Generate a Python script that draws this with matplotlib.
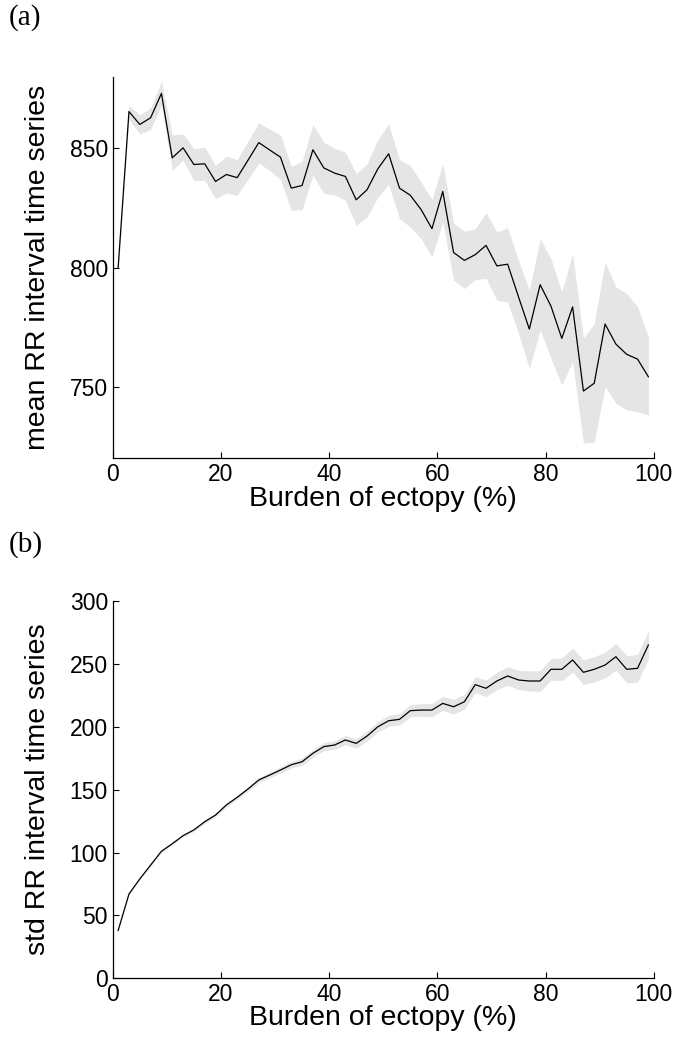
import numpy as np
import matplotlib
matplotlib.use("Agg")
import matplotlib.pyplot as plt

plt.rcParams['font.family'] = ['Liberation Sans', 'DejaVu Sans']

# Burden of ectopy (%) at bin centres
burden = [1, 3, 5, 7, 9, 11, 13, 15, 17, 19, 21, 23, 25, 27, 29, 31, 33, 35, 37, 39,
          41, 43, 45, 47, 49, 51, 53, 55, 57, 59, 61, 63, 65, 67, 69, 71, 73, 75, 77, 79,
          81, 83, 85, 87, 89, 91, 93, 95, 97, 99]

# (a) mean RR interval with confidence band
mean_rr = [800, 865.4, 860, 862.8, 873, 846, 850.2, 843.2, 843.5, 836.1,
           839, 837.7, 845, 852.4, 849.3, 846.3, 833.3, 834.4, 849.4, 841.8,
           839.6, 838.2, 828.4, 832.6, 841.4, 847.7, 833.3, 830.3, 824.3, 816.3,
           831.9, 806.3, 803, 805.4, 809.3, 800.7, 801.4, 787.7, 774.2, 792.8,
           783.8, 770.3, 783.5, 748.2, 751.5, 776.3, 767.9, 763.6, 761.6, 754.2]
mean_rr_upper = [802, 868, 864, 867, 878, 855.6, 856, 849.8, 850.5, 842.8,
                 846.7, 845.3, 853, 860.7, 858, 855.6, 842.4, 844.6, 860, 852.6,
                 850, 848.4, 839.3, 843.5, 853.6, 860.2, 845.2, 842.8, 835.8, 828.5,
                 843.5, 818.7, 815.2, 816.3, 823, 814.9, 816.7, 803, 790.5, 812.1,
                 803.7, 789.8, 805.9, 770.3, 776.6, 802.3, 791.9, 789.1, 783.5, 771]
mean_rr_lower = [798, 862, 856, 858, 868, 840.7, 845, 836.5, 836.5, 828.9,
                 831.2, 830.3, 837, 843.8, 840.7, 837, 824, 824.3, 838.9, 831,
                 830.5, 828.2, 817.7, 821.2, 829.5, 834.7, 820.5, 817, 812.1, 804.4,
                 819, 794.7, 791.2, 795, 795.4, 786.3, 785.6, 772.4, 757.7, 773.8,
                 761.9, 750.8, 760.5, 726.4, 726.8, 750, 743.1, 740.3, 739.6, 738.2]

# (b) std of RR interval with confidence half-width
std_rr = [38, 67, 79, 90, 101, 107, 113.4, 118, 124.5, 129.8,
          137.8, 143.9, 150.5, 157.7, 161.6, 165.6, 169.8, 172.2, 178.9, 184.2,
          185.5, 189.5, 186.8, 192.6, 200, 204.8, 205.9, 212.8, 213.3, 213.3,
          218.6, 215.9, 219.9, 233.5, 230.6, 236.4, 240.4, 237.2, 236.4, 236.4,
          245.7, 245.7, 253.1, 243.3, 245.7, 249.1, 255.7, 245.7, 246.5, 265]
std_rr_halfwidth = [0.5, 0.6, 0.7, 0.8, 0.9, 1.0, 1.1, 1.2, 1.3, 1.4,
                    1.5, 1.6, 1.8, 2.0, 2.2, 2.4, 2.6, 2.8, 3.0, 3.2,
                    3.4, 3.6, 3.8, 4.0, 4.2, 4.4, 4.6, 4.8, 5.0, 5.2,
                    5.5, 5.8, 6.0, 6.3, 6.6, 7.0, 7.3, 7.6, 8.0, 8.3,
                    8.6, 9.0, 9.5, 9.8, 10.0, 10.3, 10.6, 10.8, 11.0, 11.0]

x_ticks = [0, 20, 40, 60, 80, 100]
band_color = '#e5e5e5'
tick_fs = 16.5
label_fs = 20.5

fig = plt.figure(figsize=(6.82, 10.5), dpi=100)
ax1 = fig.add_axes([0.1653, 0.5635, 0.7933, 0.3634])
ax2 = fig.add_axes([0.1653, 0.0683, 0.7933, 0.3593])

x = np.array(burden)

ax1.fill_between(x, mean_rr_lower, mean_rr_upper, color=band_color, lw=0)
ax1.plot(x, mean_rr, color='black', lw=0.9)
ax1.set_ylim(720, 880)
ax1.set_yticks([750, 800, 850])
ax1.set_ylabel('mean RR interval time series', fontsize=label_fs)

s = np.array(std_rr)
h = np.array(std_rr_halfwidth)
ax2.fill_between(x, s - h, s + h, color=band_color, lw=0)
ax2.plot(x, s, color='black', lw=0.9)
ax2.set_ylim(0, 300)
ax2.set_yticks([0, 50, 100, 150, 200, 250, 300])
ax2.set_ylabel('std RR interval time series', fontsize=label_fs)

for ax in (ax1, ax2):
    ax.set_xlim(0, 100)
    ax.set_xticks(x_ticks)
    ax.set_xlabel('Burden of ectopy (%)', fontsize=label_fs)
    ax.spines['top'].set_visible(False)
    ax.spines['right'].set_visible(False)
    for sp in ('left', 'bottom'):
        ax.spines[sp].set_linewidth(0.9)
    ax.tick_params(direction='in', length=4, width=0.8, labelsize=tick_fs, pad=3.5)
    ax.yaxis.set_label_coords(-0.115, 0.5)
    ax.xaxis.set_label_coords(0.5, -0.072)

fig.text(0.013, 0.983, '(a)', fontsize=21, family='Liberation Serif', va='center')
fig.text(0.013, 0.481, '(b)', fontsize=21, family='Liberation Serif', va='center')

fig.savefig('out.png', dpi=100)
